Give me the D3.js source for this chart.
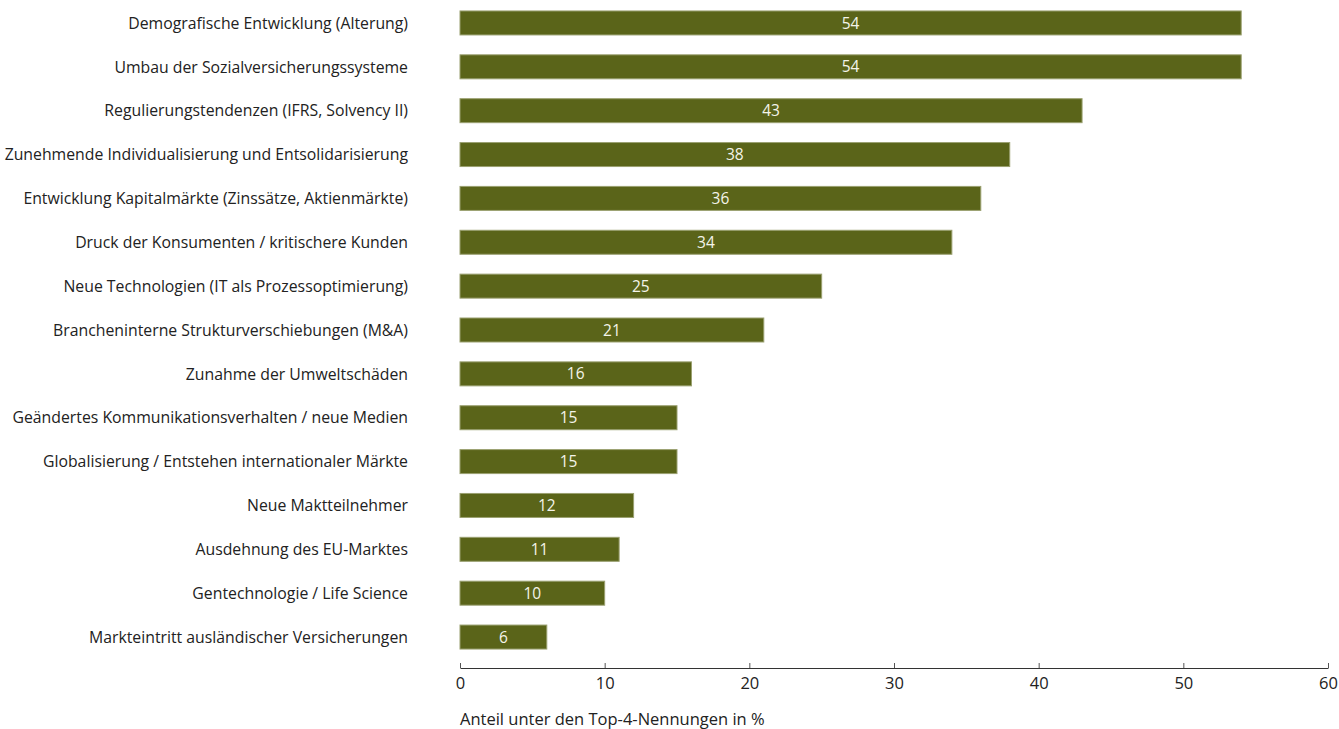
<!DOCTYPE html>
<html>
<head>
<meta charset="utf-8">
<script src="https://cdn.jsdelivr.net/npm/d3@7"></script>
<style>
  html, body { margin: 0; padding: 0; background: #fff; }
  svg { display: block; }
  text { font-family: "Open Sans", "Noto Sans", sans-serif; }
</style>
</head>
<body>
<svg id="chart" width="1339" height="729"></svg>
<script>
// Factors named among respondents' top-4 mentions
const categories = [
  "Demografische Entwicklung (Alterung)",
  "Umbau der Sozialversicherungssysteme",
  "Regulierungstendenzen (IFRS, Solvency II)",
  "Zunehmende Individualisierung und Entsolidarisierung",
  "Entwicklung Kapitalmärkte (Zinssätze, Aktienmärkte)",
  "Druck der Konsumenten / kritischere Kunden",
  "Neue Technologien (IT als Prozessoptimierung)",
  "Brancheninterne Strukturverschiebungen (M&A)",
  "Zunahme der Umweltschäden",
  "Geändertes Kommunikationsverhalten / neue Medien",
  "Globalisierung / Entstehen internationaler Märkte",
  "Neue Maktteilnehmer",
  "Ausdehnung des EU-Marktes",
  "Gentechnologie / Life Science",
  "Markteintritt ausländischer Versicherungen"
];
const values = [54, 54, 43, 38, 36, 34, 25, 21, 16, 15, 15, 12, 11, 10, 6];
const xTicks = [0, 10, 20, 30, 40, 50, 60];
const axisTitle = "Anteil unter den Top-4-Nennungen in %";

const svg = d3.select("#chart");
const plotLeft = 460, plotRight = 1328;
const plotTop = 1, plotBottom = 659;

const x = d3.scaleLinear().domain([0, 60]).range([plotLeft, plotRight]);
const y = d3.scaleBand().domain(categories).range([plotTop, plotBottom]).paddingInner(0.453).paddingOuter(0.227);

const barColor = "#5a6419";

// bars
svg.append("g").selectAll("rect")
  .data(values)
  .join("rect")
  .attr("x", x(0))
  .attr("y", (d, i) => y(categories[i]))
  .attr("width", d => x(d) - x(0))
  .attr("height", y.bandwidth())
  .attr("fill", barColor)
  .attr("stroke", "#9aa070")
  .attr("stroke-width", 1);

// value labels inside bars
svg.append("g").selectAll("text")
  .data(values)
  .join("text")
  .attr("x", d => (x(0) + x(d)) / 2)
  .attr("y", (d, i) => y(categories[i]) + y.bandwidth() / 2)
  .attr("dy", "0.36em")
  .attr("text-anchor", "middle")
  .attr("fill", "#f4f4ea")
  .attr("font-size", 15.5)
  .text(d => d);

// category labels
svg.append("g").selectAll("text")
  .data(categories)
  .join("text")
  .attr("x", 408)
  .attr("y", d => y(d) + y.bandwidth() / 2)
  .attr("dy", "0.36em")
  .attr("text-anchor", "end")
  .attr("fill", "#222")
  .attr("font-size", 15.8)
  .text(d => d);

// x axis with short upward ticks
const axisY = 668;
const ax = svg.append("g")
  .attr("transform", `translate(0,${axisY})`)
  .call(d3.axisBottom(x).tickValues(xTicks).tickSize(-5).tickSizeOuter(0).tickPadding(9));
ax.select(".domain").attr("stroke", "#333").attr("stroke-width", 1.2);
ax.selectAll(".tick line").attr("stroke", "#555");
ax.selectAll(".tick text")
  .attr("font-size", 16.5)
  .attr("fill", "#222")
  .attr("font-family", "\"Open Sans\", \"Noto Sans\", sans-serif");

// axis title
svg.append("text")
  .attr("x", plotLeft)
  .attr("y", 725)
  .attr("fill", "#222")
  .attr("font-size", 16.5)
  .text(axisTitle);
</script>
</body>
</html>
